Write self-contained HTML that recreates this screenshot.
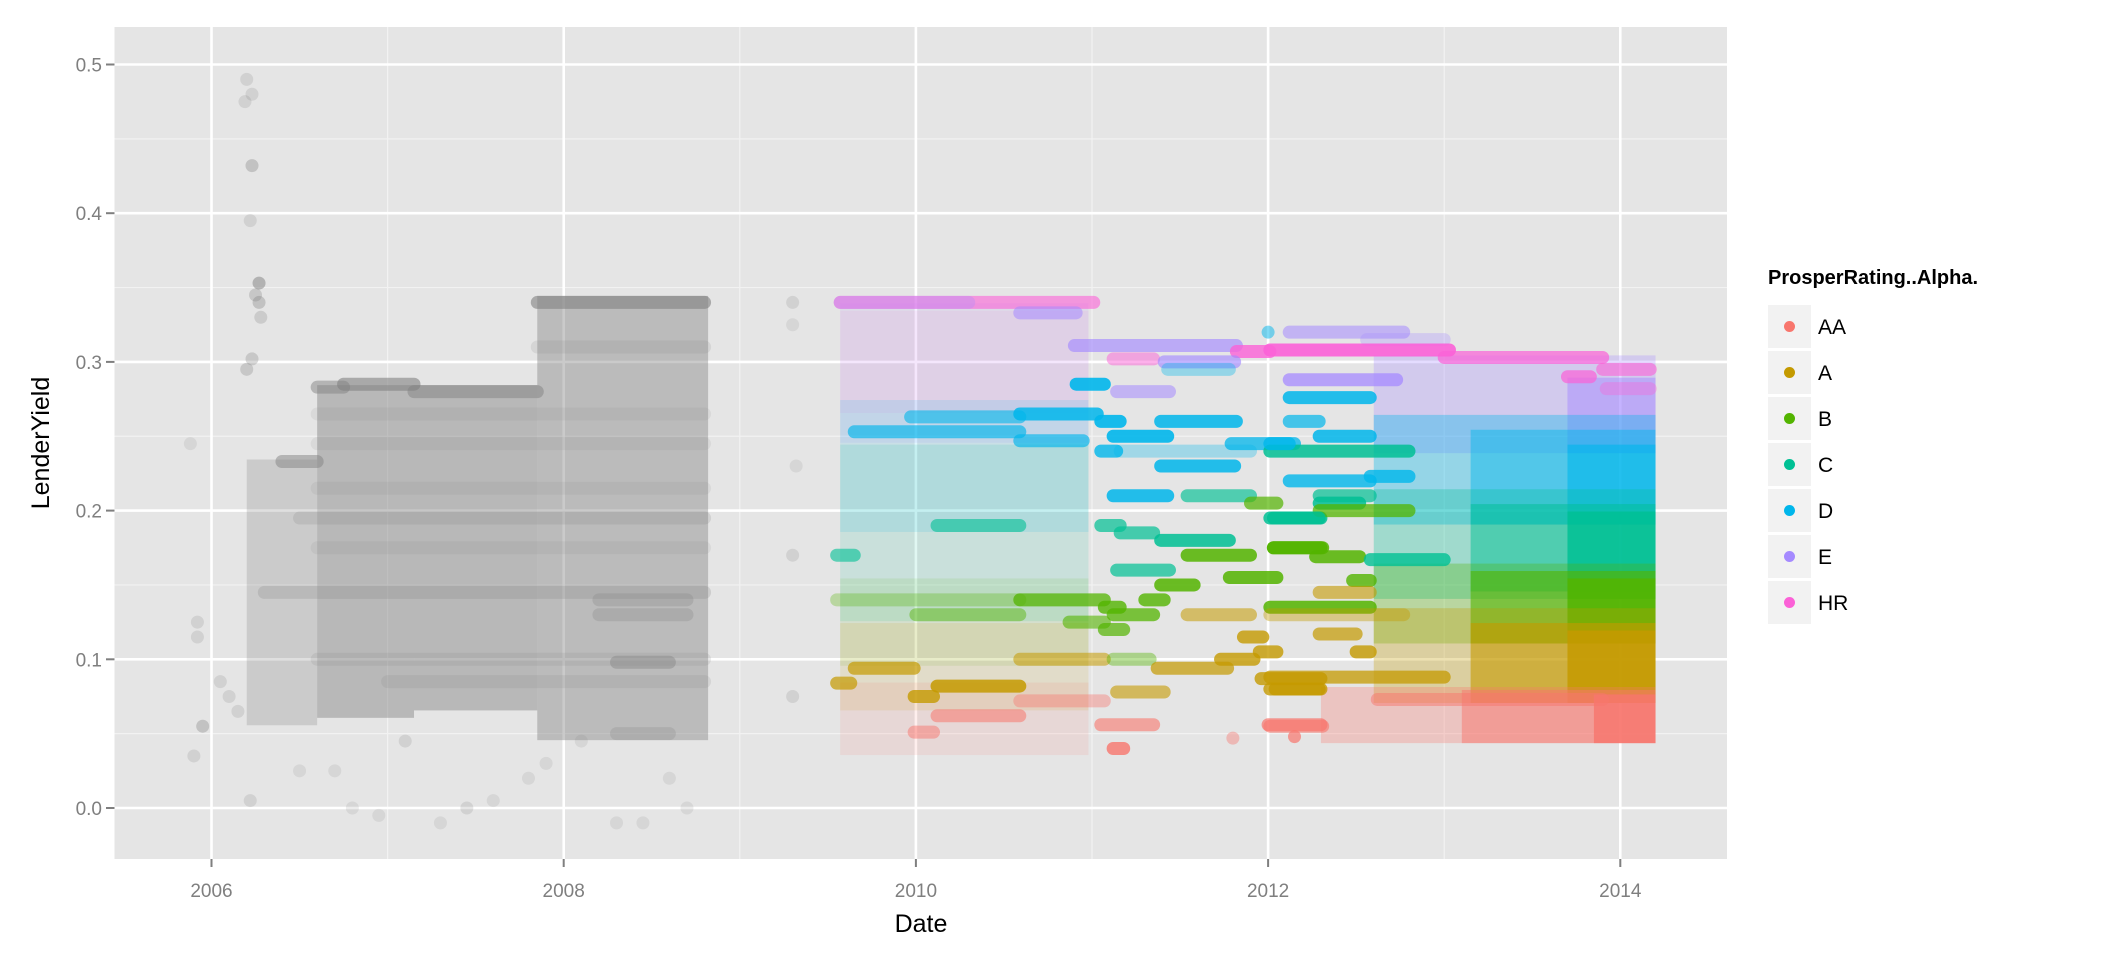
<!DOCTYPE html>
<html><head><meta charset="utf-8"><style>
html,body{margin:0;padding:0;background:#fff;}
svg{display:block;font-family:"Liberation Sans",sans-serif;}
</style></head><body>
<svg id="chart" width="2112" height="960" viewBox="0 0 2112 960" xmlns="http://www.w3.org/2000/svg">
<rect x="0" y="0" width="2112" height="960" fill="#fff"/>
<rect x="114.5" y="27" width="1612.5" height="832" fill="#e5e5e5"/>
<g id="grid"></g>
<g id="marks"></g>
<g id="axes"></g>
<g id="legend"></g>
</svg>
<script>
// ---- data ----
const xTicks = [2006, 2008, 2010, 2012, 2014];
const xMinor = [2007, 2009, 2011, 2013];
const yTicks = [0.0, 0.1, 0.2, 0.3, 0.4, 0.5];
const yTickLabels = ["0.0", "0.1", "0.2", "0.3", "0.4", "0.5"];
const yMinor = [0.05, 0.15, 0.25, 0.35, 0.45];
const categories = ["AA", "A", "B", "C", "D", "E", "HR"];
const catColors = ["#F8766D", "#C49A00", "#53B400", "#00C094", "#00B6EB", "#A58AFF", "#FB61D7"];
// dense clouds: [category, dateStart, dateEnd, yieldLow, yieldHigh, opacity]
const blocks = [
 ["G",2006.2,2006.6,0.06,0.23,0.25],
 ["G",2006.6,2007.15,0.065,0.28,0.45],
 ["G",2007.15,2007.85,0.07,0.28,0.45],
 ["G",2007.85,2008.82,0.05,0.34,0.42],
 ["E",2009.57,2010.98,0.25,0.335,0.12],
 ["HR",2009.57,2010.98,0.27,0.33,0.08],
 ["D",2009.57,2010.98,0.19,0.27,0.12],
 ["C",2009.57,2010.98,0.13,0.24,0.12],
 ["B",2009.57,2010.98,0.1,0.15,0.1],
 ["A",2009.57,2010.98,0.07,0.12,0.12],
 ["AA",2009.57,2010.98,0.04,0.08,0.12],
 ["E",2012.6,2014.2,0.243,0.3,0.3],
 ["E",2013.7,2014.2,0.243,0.285,0.5],
 ["D",2012.6,2014.2,0.195,0.26,0.35],
 ["D",2013.15,2014.2,0.195,0.25,0.45],
 ["D",2013.7,2014.2,0.195,0.24,0.6],
 ["C",2012.6,2014.2,0.145,0.21,0.3],
 ["C",2013.15,2014.2,0.15,0.2,0.5],
 ["C",2013.7,2014.2,0.145,0.195,0.85],
 ["B",2012.6,2014.2,0.115,0.16,0.3],
 ["B",2013.15,2014.2,0.115,0.155,0.6],
 ["B",2013.7,2014.2,0.115,0.15,0.85],
 ["A",2012.6,2014.2,0.075,0.13,0.3],
 ["A",2013.15,2014.2,0.075,0.12,0.6],
 ["A",2013.7,2014.2,0.075,0.115,0.85],
 ["AA",2012.3,2014.2,0.048,0.077,0.3],
 ["AA",2013.1,2014.2,0.048,0.075,0.5],
 ["AA",2013.85,2014.2,0.048,0.072,0.8]
];
// horizontal runs of overlapping points: [category, dateStart, dateEnd, yield, opacity]
const segments = [
 ["G",2006.4,2006.6,0.233,0.6],["G",2006.6,2006.75,0.283,0.6],["G",2006.75,2007.15,0.285,0.75],
 ["G",2007.15,2007.85,0.28,0.6],["G",2007.85,2008.8,0.34,0.75],["G",2006.3,2008.8,0.145,0.3],
 ["G",2006.5,2008.8,0.195,0.25],["G",2006.6,2008.8,0.1,0.2],["G",2007.0,2008.8,0.085,0.2],
 ["G",2008.2,2008.7,0.13,0.35],["G",2008.2,2008.7,0.14,0.35],["G",2008.3,2008.6,0.098,0.5],
 ["G",2008.3,2008.6,0.05,0.3],["G",2006.6,2008.8,0.245,0.15],["G",2006.6,2008.8,0.265,0.15],
 ["G",2006.6,2008.8,0.175,0.15],["G",2006.6,2008.8,0.215,0.15],["G",2007.85,2008.8,0.31,0.2],
 ["HR",2009.57,2011.01,0.34,0.6],["E",2009.57,2010.3,0.34,0.3],["E",2010.59,2010.91,0.333,0.55],
 ["E",2010.9,2011.82,0.311,0.65],["HR",2011.82,2012.01,0.307,0.8],["HR",2011.12,2011.35,0.302,0.5],
 ["E",2011.41,2011.81,0.3,0.65],["D",2011.43,2011.78,0.295,0.35],["D",2010.91,2011.07,0.285,0.9],
 ["E",2011.14,2011.44,0.28,0.55],["D",2010.59,2011.03,0.265,0.85],["D",2009.97,2010.59,0.263,0.6],
 ["D",2011.39,2011.82,0.26,0.85],["D",2011.05,2011.16,0.26,0.9],["D",2009.65,2010.59,0.253,0.65],
 ["D",2011.12,2011.43,0.25,0.9],["D",2010.59,2010.95,0.247,0.65],["D",2011.79,2012.15,0.245,0.75],
 ["D",2011.05,2011.14,0.24,0.8],["D",2011.16,2011.9,0.24,0.3],["D",2011.39,2011.81,0.23,0.85],
 ["D",2011.12,2011.43,0.21,0.85],["C",2011.54,2011.9,0.21,0.65],["B",2011.9,2012.05,0.205,0.7],
 ["C",2012.03,2012.3,0.195,0.85],["C",2010.12,2010.59,0.19,0.6],["C",2011.05,2011.16,0.19,0.7],
 ["C",2011.16,2011.35,0.185,0.7],["C",2011.39,2011.78,0.18,0.85],["B",2012.03,2012.3,0.175,0.9],
 ["B",2011.54,2011.9,0.17,0.85],["C",2009.55,2009.65,0.17,0.6],["C",2011.14,2011.44,0.16,0.7],
 ["B",2011.78,2012.05,0.155,0.85],["B",2011.39,2011.58,0.15,0.85],["B",2010.59,2011.07,0.14,0.75],
 ["B",2011.3,2011.41,0.14,0.8],["B",2011.07,2011.16,0.135,0.8],["B",2009.55,2010.59,0.14,0.3],
 ["B",2010.0,2010.59,0.13,0.45],["B",2011.12,2011.35,0.13,0.75],["A",2011.54,2011.9,0.13,0.55],
 ["B",2010.87,2011.07,0.125,0.6],["B",2011.07,2011.18,0.12,0.7],["A",2011.86,2011.97,0.115,0.8],
 ["A",2010.59,2011.07,0.1,0.55],["A",2011.95,2012.05,0.105,0.8],["A",2011.73,2011.92,0.1,0.8],
 ["B",2011.12,2011.33,0.1,0.4],["A",2009.65,2009.99,0.094,0.7],["A",2011.37,2011.77,0.094,0.7],
 ["A",2011.96,2012.3,0.087,0.8],["A",2009.55,2009.63,0.084,0.7],["A",2010.12,2010.59,0.082,0.85],
 ["A",2012.04,2012.3,0.08,0.8],["A",2011.14,2011.41,0.078,0.6],["A",2009.99,2010.1,0.075,0.8],
 ["AA",2010.59,2011.07,0.072,0.4],["AA",2010.12,2010.59,0.062,0.55],["AA",2012.0,2012.3,0.056,0.7],
 ["AA",2011.05,2011.35,0.056,0.6],["AA",2009.99,2010.1,0.051,0.5],["AA",2011.12,2011.18,0.04,0.8],
 ["E",2012.12,2012.77,0.32,0.55],["E",2012.56,2013.0,0.315,0.3],["HR",2012.01,2013.03,0.308,0.9],
 ["HR",2013.0,2013.9,0.303,0.7],["HR",2013.9,2014.17,0.295,0.6],["HR",2013.7,2013.83,0.29,0.7],
 ["HR",2013.92,2014.17,0.282,0.35],["E",2012.12,2012.73,0.288,0.75],["D",2012.12,2012.58,0.276,0.85],
 ["D",2012.12,2012.29,0.26,0.7],["D",2012.29,2012.58,0.25,0.85],["C",2012.01,2012.8,0.24,0.85],
 ["D",2012.01,2012.12,0.245,0.8],["D",2012.12,2012.58,0.22,0.8],["D",2012.58,2012.8,0.223,0.8],
 ["C",2012.29,2012.58,0.21,0.7],["C",2012.29,2012.52,0.205,0.85],["B",2012.29,2012.8,0.2,0.75],
 ["C",2012.01,2012.29,0.195,0.85],["B",2012.03,2012.31,0.175,0.85],["B",2012.27,2012.52,0.169,0.85],
 ["C",2012.58,2013.0,0.167,0.8],["B",2012.48,2012.58,0.153,0.8],["A",2012.29,2012.58,0.145,0.6],
 ["B",2012.01,2012.58,0.135,0.85],["A",2012.01,2012.77,0.13,0.4],["A",2012.29,2012.5,0.117,0.7],
 ["A",2012.5,2012.58,0.105,0.8],["A",2012.01,2013.0,0.088,0.75],["A",2012.01,2012.29,0.08,0.8],
 ["AA",2012.62,2013.9,0.073,0.5],["AA",2012.01,2012.31,0.055,0.6]
];
// isolated points: [category, date, yield, opacity]
const points = [
 ["G",2006.2,0.49,0.2],["G",2006.23,0.48,0.2],["G",2006.19,0.475,0.2],["G",2006.23,0.432,0.35],
 ["G",2006.22,0.395,0.2],["G",2006.27,0.353,0.5],["G",2006.25,0.345,0.3],["G",2006.27,0.34,0.35],
 ["G",2006.28,0.33,0.25],["G",2006.23,0.302,0.3],["G",2006.2,0.295,0.3],["G",2005.88,0.245,0.15],
 ["G",2005.92,0.125,0.2],["G",2005.92,0.115,0.2],["G",2005.95,0.055,0.35],["G",2005.9,0.035,0.2],
 ["G",2006.22,0.005,0.2],["G",2006.05,0.085,0.2],["G",2006.1,0.075,0.2],["G",2006.15,0.065,0.2],
 ["G",2006.5,0.025,0.15],["G",2006.7,0.025,0.15],["G",2006.8,0.0,0.15],["G",2006.95,-0.005,0.15],
 ["G",2007.1,0.045,0.2],["G",2007.3,-0.01,0.15],["G",2007.45,0.0,0.2],["G",2007.6,0.005,0.15],
 ["G",2007.8,0.02,0.15],["G",2008.3,-0.01,0.15],["G",2008.45,-0.01,0.15],["G",2008.7,0.0,0.15],
 ["G",2008.6,0.02,0.15],["G",2009.3,0.34,0.2],["G",2009.3,0.17,0.2],["G",2009.3,0.075,0.2],
 ["G",2009.32,0.23,0.15],["G",2009.3,0.325,0.15],["G",2007.9,0.03,0.15],["G",2008.1,0.045,0.15],
 ["D",2012.0,0.32,0.5],["AA",2012.15,0.048,0.7],["AA",2011.8,0.047,0.4]
];
// ---- scales ----
const X0 = 211.5, XPY = 176.1, Y0 = 808, YPU = 1487;
function sx(d){ return X0 + (d - 2006) * XPY; }
function sy(v){ return Y0 - v * YPU; }
function colorOf(c){ return c === "G" ? "#808080" : catColors[categories.indexOf(c)]; }
const NS = "http://www.w3.org/2000/svg";
function mk(tag, attrs, parent){ const e = document.createElementNS(NS, tag); for (const k in attrs) e.setAttribute(k, attrs[k]); parent.appendChild(e); return e; }
const grid = document.getElementById("grid"), marks = document.getElementById("marks"), axes = document.getElementById("axes"), legend = document.getElementById("legend");
const PL = 114.5, PR = 1727, PT = 27, PB = 859;
yMinor.forEach(v => { const l = mk("line", {x1:PL, x2:PR, y1:sy(v), y2:sy(v), stroke:"#f2f2f2", "stroke-width":1.2}, grid);
  
   });
xMinor.forEach(d => { const l = mk("line", {x1:sx(d), x2:sx(d), y1:PT, y2:PB, stroke:"#f2f2f2", "stroke-width":1.2}, grid);
  
   });
yTicks.forEach(v => { const l = mk("line", {x1:PL, x2:PR, y1:sy(v), y2:sy(v), stroke:"#fff", "stroke-width":2.6}, grid);
  
   });
xTicks.forEach(d => { const l = mk("line", {x1:sx(d), x2:sx(d), y1:PT, y2:PB, stroke:"#fff", "stroke-width":2.6}, grid);
  
   });
const clipD = mk("clipPath", {id:"pc"}, document.getElementById("chart"));
mk("rect", {x:PL, y:PT, width:PR-PL, height:PB-PT}, clipD);
marks.setAttribute("clip-path", "url(#pc)");
const R = 6.5;
blocks.forEach(b => {
  const r = mk("rect", {x:sx(b[1]), y:sy(b[4]) - R, width:sx(b[2]) - sx(b[1]), height:sy(b[3]) - sy(b[4]) + 2*R, fill:colorOf(b[0]), "fill-opacity":b[5]}, marks);
  
  
});
segments.forEach(s => {
  const l = mk("line", {x1:sx(s[1]), x2:sx(s[2]), y1:sy(s[3]), y2:sy(s[3]), stroke:colorOf(s[0]), "stroke-width":2*R, "stroke-linecap":"round", "stroke-opacity":s[0] === "G" ? s[4] * 0.8 : s[4]}, marks);
  
  
});
points.forEach(p => {
  const c = mk("circle", {cx:sx(p[1]), cy:sy(p[2]), r:R, fill:colorOf(p[0]), "fill-opacity":p[3]}, marks);
  
  
});
// axes
yTicks.forEach((v, i) => {
  const t = mk("line", {x1:106, x2:114.5, y1:sy(v), y2:sy(v), stroke:"#7f7f7f", "stroke-width":2}, axes);
  
  
  const tx = mk("text", {x:102, y:sy(v) + 7, "text-anchor":"end", "font-size":19, fill:"#7f7f7f"}, axes);
  tx.textContent = yTickLabels[i];
  
  
});
xTicks.forEach(d => {
  const t = mk("line", {x1:sx(d), x2:sx(d), y1:859, y2:867, stroke:"#7f7f7f", "stroke-width":2}, axes);
  
  
  const tx = mk("text", {x:sx(d), y:897, "text-anchor":"middle", "font-size":19, fill:"#7f7f7f"}, axes);
  tx.textContent = String(d);
  
  
});
const xt = mk("text", {x:921, y:932, "text-anchor":"middle", "font-size":25, fill:"#000"}, axes);
xt.textContent = "Date";


const yt = mk("text", {x:0, y:0, "text-anchor":"middle", "font-size":25, fill:"#000", transform:"translate(49,443) rotate(-90)"}, axes);
yt.textContent = "LenderYield";


// legend
const lt = mk("text", {x:1768, y:284, "font-size":20, "font-weight":"bold", fill:"#000"}, legend);
lt.textContent = "ProsperRating..Alpha.";


categories.forEach((c, i) => {
  const y = 305 + i * 46;
  const g = mk("g", {}, legend);
  
  
  mk("rect", {x:1768, y:y, width:43, height:43, fill:"#f2f2f2"}, g);
  mk("circle", {cx:1789.5, cy:y + 21.5, r:5.5, fill:catColors[i]}, g);
  const tx = mk("text", {x:1818, y:y + 29, "font-size":21, fill:"#000"}, g);
  tx.textContent = c;
});
</script>
</body></html>
